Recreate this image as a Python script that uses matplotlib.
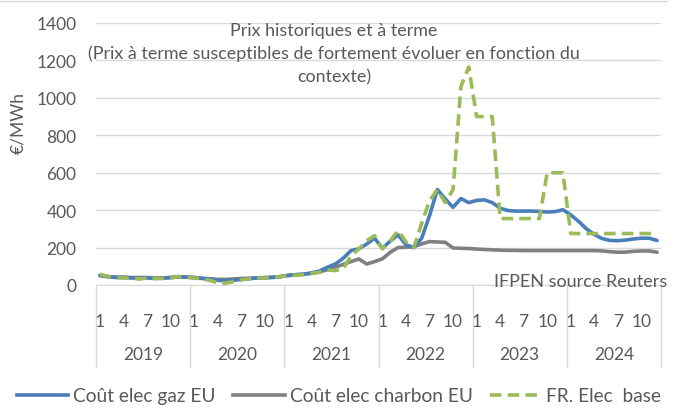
import numpy as np
import matplotlib
matplotlib.use('Agg')
import matplotlib.pyplot as plt
from matplotlib.lines import Line2D
import matplotlib.transforms as mtransforms

plt.rcParams['font.family'] = ['Lato', 'DejaVu Sans']

years = ['2019', '2020', '2021', '2022', '2023', '2024']
months = list(range(1, 13))

# monthly values Jan 2019 -> Dec 2024, EUR/MWh
gaz_eu = [52, 45, 40, 40, 38, 35, 38, 35, 36, 40, 45, 42,
          40, 35, 32, 25, 22, 25, 30, 33, 38, 38, 40, 45,
          50, 55, 58, 65, 75, 95, 112, 143, 184, 193, 219, 250,
          196, 235, 268, 215, 200, 250, 370, 510, 460, 415, 462, 440,
          452, 455, 440, 410, 398, 395, 395, 395, 393, 390, 392, 402,
          375, 340, 300, 270, 248, 238, 237, 240, 246, 250, 250, 238]
charbon_eu = [50, 45, 42, 42, 40, 40, 40, 38, 38, 40, 42, 42,
              40, 36, 33, 30, 30, 32, 35, 36, 38, 40, 42, 45,
              52, 55, 58, 62, 70, 82, 95, 110, 125, 139, 112, 125,
              140, 175, 200, 202, 205, 220, 232, 230, 228, 198, 196, 195,
              192, 190, 188, 186, 185, 185, 184, 184, 184, 184, 184, 184,
              184, 184, 184, 184, 182, 178, 175, 176, 180, 182, 182, 175]
fr_base = [58, 45, 38, 38, 36, 32, 37, 35, 35, 38, 45, 40,
           38, 32, 25, 12, 10, 18, 28, 33, 38, 38, 40, 45,
           50, 52, 56, 62, 68, 80, 77, 86, 157, 193, 237, 264,
           193, 235, 291, 230, 200, 330, 450, 510, 440, 510, 1060, 1165,
           900, 900, 900, 355, 355, 355, 355, 355, 355, 600, 600, 600,
           275, 275, 275, 275, 275, 275, 275, 275, 275, 275, 275, 275]

W, H = 675, 410
txt = '#595959'
grid = '#D9D9D9'

fig = plt.figure(figsize=(W / 100, H / 100), dpi=100)
ax = fig.add_axes([96 / W, 1 - 286 / H, 565 / W, 262 / H])

x = np.arange(len(gaz_eu))
ax.plot(x, gaz_eu, color='#4A7EBB', lw=2.6, solid_joinstyle='round',
        solid_capstyle='round', zorder=3)
ax.plot(x, charbon_eu, color='#808080', lw=2.6, solid_joinstyle='round',
        solid_capstyle='round', zorder=2)
ax.plot(x, fr_base, color='#9BBB59', lw=2.6, dashes=(3.2, 1.7),
        dash_joinstyle='round', zorder=4)

ax.set_xlim(-0.5, len(x) - 0.5)
ax.set_ylim(0, 1400)
ax.set_yticks(range(0, 1401, 200))
ax.yaxis.grid(True, color=grid, lw=1)
ax.set_axisbelow(True)
for s in ['top', 'right', 'left']:
    ax.spines[s].set_visible(False)
ax.spines['bottom'].set_color(grid)
ax.tick_params(axis='y', length=0, pad=14, labelsize=12.5, labelcolor=txt)

tick_pos = [i for i in x if i % 12 in (0, 3, 6, 9)]
ax.set_xticks(tick_pos)
ax.set_xticklabels([str(months[i % 12]) for i in tick_pos])
ax.tick_params(axis='x', length=0, pad=20, labelsize=12.5, labelcolor=txt)

trans = mtransforms.blended_transform_factory(ax.transData, ax.transAxes)
for k in range(len(years) + 1):
    ax.plot([12 * k - 0.5] * 2, [0, -0.313], transform=trans, color=grid,
            lw=1, clip_on=False)
for k, yr in enumerate(years):
    ax.text(12 * k + 5.5, -0.263, yr, transform=trans, ha='center',
            va='center', fontsize=12.5, color=txt)

fig.text(18 / W, 1 - 123 / H, '€/MWh', rotation=90, ha='center',
         va='center', fontsize=12.5, color=txt)

title_lines = ['Prix historiques et à terme',
               '(Prix à terme susceptibles de fortement évoluer en fonction du',
               'contexte)']
for line, yp in zip(title_lines, [31, 54, 77]):
    fig.text(334 / W, 1 - yp / H, line, ha='center', va='center',
             fontsize=12.9, color=txt)

fig.text(667 / W, 1 - 282 / H, 'IFPEN source Reuters', ha='right',
         va='center', fontsize=13, color=txt)

# chart area border (top edge only visible in the crop)
fig.add_artist(Line2D([0, 667 / W], [1 - 2 / H, 1 - 2 / H], color=grid, lw=1))

handles = [Line2D([], [], color='#4A7EBB', lw=2.6),
           Line2D([], [], color='#808080', lw=2.6),
           Line2D([], [], color='#9BBB59', lw=2.6, dashes=(3.2, 1.7))]
labels = ['Coût elec gaz EU', 'Coût elec charbon EU', 'FR. Elec  base']
fig.legend(handles, labels, loc='center', bbox_to_anchor=(339 / W, 1 - 397 / H),
           ncol=3, frameon=False, fontsize=13.8, handlelength=2.7,
           handletextpad=0.25, columnspacing=0.9, labelcolor=txt,
           borderaxespad=0, borderpad=0)

fig.savefig('out.png', dpi=100)
